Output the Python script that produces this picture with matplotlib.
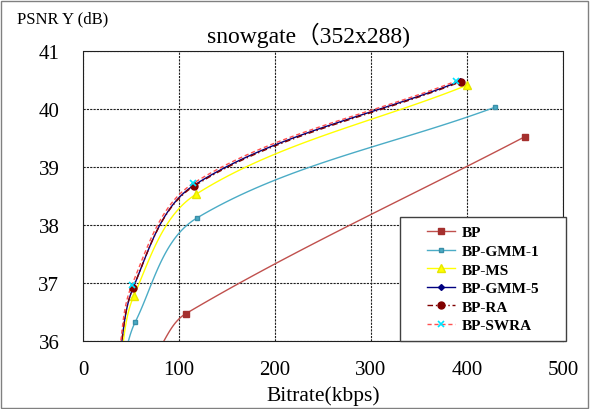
import matplotlib
matplotlib.use("Agg")
import matplotlib.pyplot as plt
from matplotlib.lines import Line2D
from matplotlib.patches import Rectangle
import numpy as np

# data (first point of each series sits below the axis)
bp_x = [75, 107, 460]
bp_y = [35.75, 36.47, 39.52]
gmm1_x = [40, 54.5, 118.6, 429]
gmm1_y = [35.5, 36.33, 38.12, 40.03]
ms_x = [38, 53, 117.7, 400]
ms_y = [35.55, 36.78, 38.53, 40.41]
gmm5_x = [37, 52.5, 116, 393]
gmm5_y = [35.62, 36.93, 38.69, 40.48]
ra_x = [37, 52, 115.6, 393.5]
ra_y = [35.6, 36.91, 38.67, 40.47]
swra_x = [36.5, 51, 115, 388.5]
swra_y = [35.65, 36.97, 38.72, 40.48]

x_ticks = [0, 100, 200, 300, 400, 500]
y_ticks = [36, 37, 38, 39, 40, 41]

serif = ["Liberation Serif", "Noto Sans CJK SC", "DejaVu Serif"]
plt.rcParams["font.family"] = serif

# pixels per data unit, used so the smoothing works in screen space
SX, SY = 480 / 500, 290 / 5


def smooth(xs, ys, n=40):
    """Smoothed line like a spreadsheet chart: bezier segments whose
    handles follow the neighbour direction, scaled by segment length."""
    p = np.column_stack([np.array(xs) * SX, np.array(ys) * SY])
    m = len(p)
    tang = np.zeros_like(p)
    for i in range(m):
        a = p[max(i - 1, 0)]
        b = p[min(i + 1, m - 1)]
        d = b - a
        tang[i] = d / np.hypot(*d)
    out = []
    for i in range(m - 1):
        p1, p2 = p[i], p[i + 1]
        L = np.hypot(*(p2 - p1)) / 3
        c1 = p1 + tang[i] * L
        c2 = p2 - tang[i + 1] * L
        t = np.linspace(0, 1, n)[:, None]
        seg = ((1 - t) ** 3) * p1 + 3 * ((1 - t) ** 2) * t * c1 \
            + 3 * (1 - t) * t ** 2 * c2 + t ** 3 * p2
        out.append(seg)
    c = np.vstack(out)
    return c[:, 0] / SX, c[:, 1] / SY


series = [
    ("BP", bp_x, bp_y, dict(color="#C0504D", ls="-", lw=1.0),
     dict(marker="s", ms=4, mfc="#A5302E", mec="#A5302E")),
    ("BP-GMM-1", gmm1_x, gmm1_y, dict(color="#4BACC6", ls="-", lw=1.0),
     dict(marker="s", ms=2.6, mfc="#4BACC6", mec="#3A8FA8")),
    ("BP-MS", ms_x, ms_y, dict(color="#FFFF00", ls="-", lw=1.0),
     dict(marker="^", ms=5.5, mfc="#FFFF00", mec="#E6E600")),
    ("BP-GMM-5", gmm5_x, gmm5_y, dict(color="#000080", ls="-", lw=1.0),
     dict(marker="D", ms=3, mfc="#000080", mec="#000080")),
    ("BP-RA", ra_x, ra_y, dict(color="#800000", ls=(0, (4, 2, 1, 2)), lw=1.0),
     dict(marker="o", ms=5, mfc="#800000", mec="#800000")),
    ("BP-SWRA", swra_x, swra_y, dict(color="#FF5050", ls=(0, (3, 2)), lw=1.0),
     dict(marker="x", ms=5, mfc="#00FFFF", mec="#00E5FF", mew=1.2)),
]

fig = plt.figure(figsize=(5.9, 4.1), dpi=100)
ax = fig.add_axes([83 / 590, 1 - 342 / 410, 480 / 590, 290 / 410])

handles = []
for name, xs, ys, lsty, msty in series:
    sx, sy = smooth(xs, ys)
    ax.plot(sx, sy, zorder=3, **lsty)
    ax.plot(xs, ys, ls="none", zorder=4, **msty)
    handles.append(Line2D([], [], label=name, **lsty, **msty))

ax.set_xlim(0, 500)
ax.set_ylim(36, 41)
ax.set_xticks(x_ticks)
ax.set_yticks(y_ticks)
ax.tick_params(length=0, labelsize=15)
ax.tick_params(axis="x", pad=14)
ax.tick_params(axis="y", pad=17)
ax.grid(True, color="#202020", ls=(0, (2, 1)), lw=0.8)
for s in ax.spines.values():
    s.set_color("#202020")
    s.set_linestyle((0, (2, 1)))
    s.set_linewidth(0.8)

ax.set_xlabel("Bitrate(kbps)", fontsize=15.5, labelpad=4)
fig.text(17 / 590, 1 - 19 / 410, "PSNR Y (dB)", fontsize=12,
         ha="left", va="center")
fig.text(308 / 590, 1 - 35 / 410, "snowgate（352x288)", fontsize=17,
         ha="center", va="center")

# legend frame drawn on its own, entries placed inside it
ax.add_patch(Rectangle(((400 - 83) / 480, 0), 166 / 480, 124 / 290,
                       transform=ax.transAxes, facecolor="white",
                       edgecolor="#404040", lw=1.0, zorder=9, clip_on=False))
leg = ax.legend(handles=handles, loc="center left",
                bbox_to_anchor=((427 - 83) / 480, 62 / 290),
                borderaxespad=0, borderpad=0, frameon=False,
                handlelength=1.85, labelspacing=0.32, handletextpad=0.45,
                prop=dict(family=serif, weight="bold", size=11))
leg.set_zorder(10)

fig.patches.append(Rectangle((1 / 590, 1 / 410), 587 / 590, 407 / 410,
                             transform=fig.transFigure, fill=False,
                             edgecolor="#808080", lw=1.0))

fig.savefig("out.png", dpi=100)
